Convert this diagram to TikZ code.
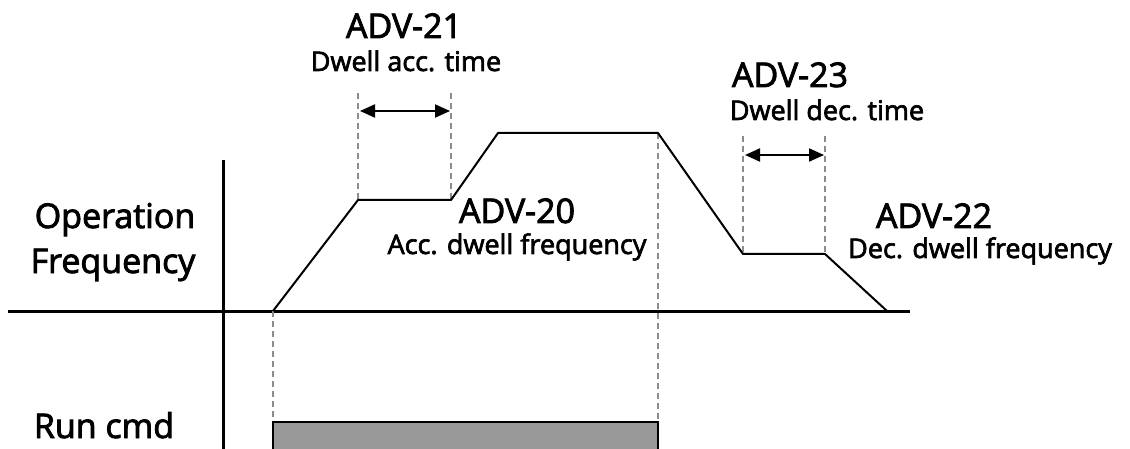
\documentclass[tikz,border=0pt]{standalone}
\usepackage{fontspec}
\setmainfont[FakeBold=2.5]{Open Sans}
\usetikzlibrary{arrows.meta}
\begin{document}
\begin{tikzpicture}[x=1pt,y=-1pt,
  big/.style={font=\fontsize{34}{36}\selectfont, inner sep=0pt, anchor=base},
  small/.style={font=\fontsize{27}{29}\selectfont, inner sep=0pt, anchor=base},
  axisline/.style={line width=3pt, black},
  curve/.style={line width=2pt, black, line join=round},
  guide/.style={line width=2pt, color=black!45, dash pattern=on 6pt off 4pt},
  dimarrow/.style={line width=2pt, {Triangle[length=15pt,width=13pt]}-{Triangle[length=15pt,width=13pt]}}
]
\useasboundingbox (0,0) rectangle (1130,449);
% axes
\coordinate (hx0) at (8,311);
\coordinate (hx1) at (910,311);
\coordinate (vy0) at (223,160);
\coordinate (vy1) at (223,449);
\draw[axisline] (hx0) -- (hx1);
\draw[axisline] (vy0) -- (vy1);
% curve points
\coordinate (p0) at (273,311);
\coordinate (p1) at (358,200);
\coordinate (p2) at (451,200);
\coordinate (p3) at (498,133);
\coordinate (p4) at (658,133);
\coordinate (p5) at (743,254);
\coordinate (p6) at (825,254);
\coordinate (p7) at (887,311);
% guides
\draw[guide] (358,93) -- (p1);
\draw[guide] (451,93) -- (p2);
\draw[guide] (743,136) -- (p5);
\draw[guide] (825,136) -- (p6);
\draw[guide] (p4) -- (658,422);
\draw[guide] (p0) -- (273,422);
% run cmd box
\fill[black!40] (273,422) rectangle (658,449);
\draw[line width=2pt] (273,449) -- (273,422) -- (658,422) -- (658,449);
\draw[curve] (p0) -- (p1) -- (p2) -- (p3) -- (p4) -- (p5) -- (p6) -- (p7);
% dimension arrows
\coordinate (a1) at (360,111);
\coordinate (a2) at (450,111);
\coordinate (b1) at (745,155);
\coordinate (b2) at (824,155);
\draw[dimarrow] (a1) -- (a2);
\draw[dimarrow] (b1) -- (b2);
% labels
\node[big] (adv21) at (404,38) {ADV-21};
\node[small] (dat) at (406,71) {Dwell acc. time};
\node[big] (adv23) at (790,87) {ADV-23};
\node[small] (ddt) at (827,120) {Dwell dec. time};
\node[big] (adv20) at (517,223) {ADV-20};
\node[small] (adf) at (517,254) {Acc. dwell frequency};
\node[big] (adv22) at (934,228) {ADV-22};
\node[small] (ddf) at (980,258) {Dec. dwell frequency};
\node[big] (op) at (115,228) {Operation};
\node[big] (fr) at (113,273) {Frequency};
\node[big] (run) at (104,438) {Run cmd};
\end{tikzpicture}
\end{document}
